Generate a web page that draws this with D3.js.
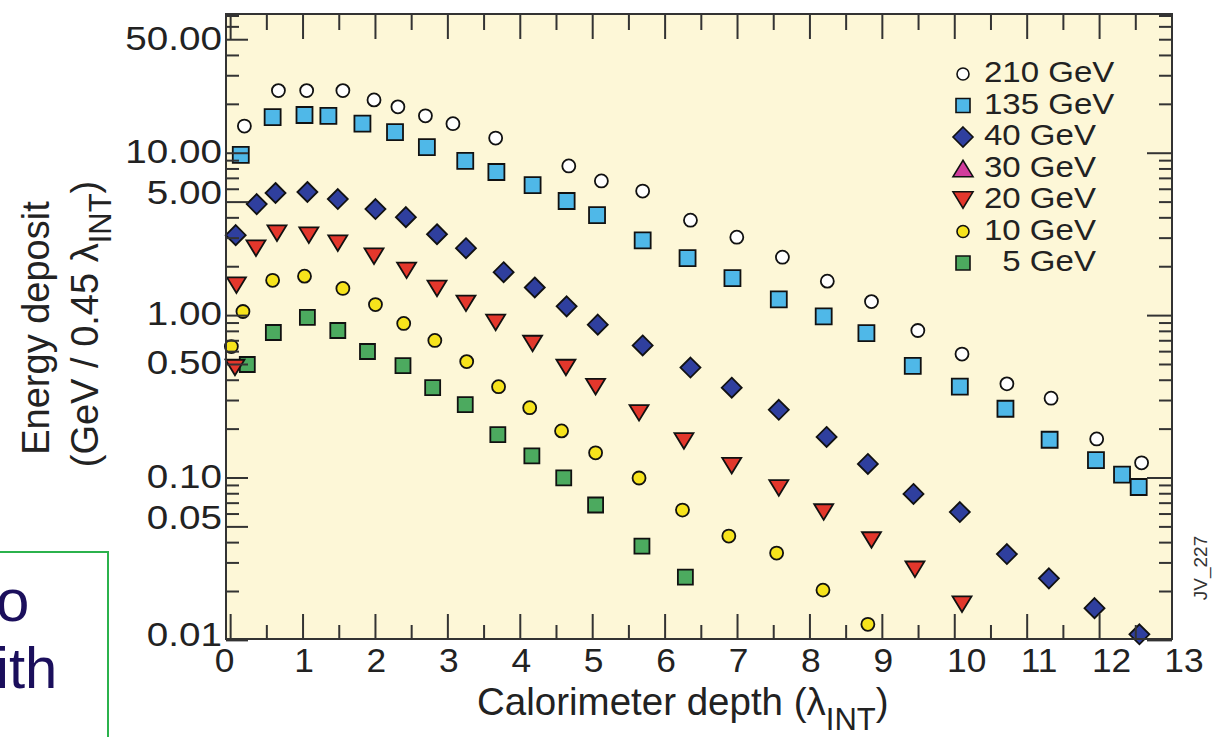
<!DOCTYPE html>
<html>
<head>
<meta charset="utf-8">
<script src="https://cdn.jsdelivr.net/npm/d3@7/dist/d3.min.js"></script>
<style>
  body { margin: 0; background: #fff; }
  svg { display: block; font-family: "Liberation Sans", Arial, sans-serif; }
</style>
</head>
<body>
<svg id="chart" width="1217" height="737"></svg>
<script>
// 各能量的数据点 (深度 λ_INT, 能量沉积 GeV / 0.45 λ_INT)
const depth210 = [0.19,0.66,1.05,1.55,1.98,2.31,2.69,3.07,3.66,4.67,5.12,5.69,6.35,6.99,7.62,8.24,8.85,9.49,10.1,10.72,11.33,11.96,12.58];
const dep210   = [14.7,24.3,24.3,24.3,21.3,19.3,17.0,15.2,12.4,8.35,6.75,5.85,3.87,3.04,2.29,1.63,1.22,0.81,0.58,0.38,0.31,0.174,0.124];

const depth135 = [0.14,0.58,1.02,1.35,1.82,2.27,2.71,3.24,3.67,4.17,4.64,5.06,5.69,6.31,6.93,7.57,8.19,8.78,9.42,10.07,10.7,11.31,11.95,12.31,12.54];
const dep135   = [9.76,16.7,17.2,17.0,15.2,13.5,10.9,8.96,7.66,6.37,5.08,4.16,2.91,2.26,1.70,1.26,0.99,0.78,0.49,0.365,0.267,0.172,0.129,0.105,0.088];

const depth40 = [0.07,0.36,0.62,1.06,1.48,2.0,2.42,2.85,3.25,3.77,4.2,4.64,5.07,5.69,6.35,6.92,7.57,8.23,8.8,9.43,10.07,10.72,11.3,11.93,12.55];
const dep40   = [3.13,4.86,5.69,5.77,5.22,4.53,4.04,3.17,2.60,1.85,1.49,1.14,0.88,0.655,0.479,0.360,0.263,0.179,0.122,0.0798,0.0617,0.034,0.0241,0.0158,0.0109];

const depth30 = [];
const dep30   = [];

const depth20 = [0.06,0.08,0.35,0.64,1.08,1.48,1.98,2.43,2.85,3.25,3.66,4.17,4.63,5.04,5.64,6.26,6.92,7.57,8.19,8.85,9.45,10.1];
const dep20   = [0.479,1.54,2.60,3.22,3.13,2.79,2.32,1.90,1.47,1.19,0.908,0.673,0.479,0.365,0.252,0.169,0.119,0.0869,0.0617,0.0415,0.0274,0.0167];

const depth10 = [0.01,0.17,0.58,1.02,1.55,2.0,2.39,2.82,3.26,3.7,4.13,4.57,5.04,5.64,6.24,6.88,7.54,8.18,8.8];
const dep10   = [0.645,1.06,1.65,1.75,1.47,1.17,0.895,0.703,0.521,0.365,0.271,0.195,0.143,0.100,0.0635,0.0439,0.0345,0.0204,0.01256];

const depth5 = [0.23,0.59,1.06,1.48,1.89,2.38,2.79,3.24,3.69,4.16,4.6,5.04,5.68,6.28];
const dep5   = [0.50,0.787,0.975,0.81,0.601,0.492,0.360,0.283,0.185,0.137,0.1001,0.0682,0.0381,0.0245];

// 图例与刻度
const seriesNames = ["210 GeV", "135 GeV", "40 GeV", "30 GeV", "20 GeV", "10 GeV", "\u00a0\u00a05 GeV"];
const xTickLabels = [0,1,2,3,4,5,6,7,8,9,10,11,12,13];
const yTickLabels = [50, 10, 5, 1, 0.5, 0.1, 0.05, 0.01];

// 样式
const styles = [
    {shape: "circle",  fill: "#ffffff", size: 13, lsize: 12},
    {shape: "square",  fill: "#4fb8e8", size: 16, lsize: 14},
    {shape: "diamond", fill: "#2f3f9e", size: 20, lsize: 20},
    {shape: "triUp",   fill: "#d13c9c", size: 19, lsize: 20},
    {shape: "triDown", fill: "#e3372c", size: 19, lsize: 20},
    {shape: "circle",  fill: "#f6e31c", size: 13, lsize: 12},
    {shape: "square",  fill: "#4caa5f", size: 15, lsize: 14}
];

const series = [
    [depth210, dep210], [depth135, dep135], [depth40, dep40], [depth30, dep30],
    [depth20, dep20], [depth10, dep10], [depth5, dep5]
].map((s, i) => ({
    name: seriesNames[i],
    style: styles[i],
    points: s[0].map((d, j) => ({x: d, y: s[1][j]}))
}));

const svg = d3.select("#chart");
const pLeft = 226, pRight = 1172, pTop = 14, pBottom = 639;

var x = d3.scaleLinear().domain([-0.064, 13]).range([pLeft, pRight]);
var y = d3.scaleLog().domain([0.0102, 72]).range([pBottom, pTop]);

// 文字横向拉宽（原图字体偏宽）
function stretch(sel, k) {
    sel.each(function() {
        var w = this.getComputedTextLength();
        d3.select(this).attr("textLength", w * k).attr("lengthAdjust", "spacingAndGlyphs");
    });
}

// 左下角被截掉的幻灯片文本框
svg.append("rect")
    .attr("x", -10).attr("y", 552).attr("width", 118).attr("height", 200)
    .attr("fill", "none").attr("stroke", "#2bb24c").attr("stroke-width", 2);
svg.append("text").attr("x", -4).attr("y", 621)
    .attr("font-size", 60).attr("fill", "#1b0f5c").text("o");
svg.append("text").attr("x", -4).attr("y", 688)
    .attr("font-size", 58).attr("fill", "#1b0f5c").text("ith");

// 绘图区背景
svg.append("rect")
    .attr("x", pLeft).attr("y", pTop)
    .attr("width", pRight - pLeft).attr("height", pBottom - pTop)
    .attr("fill", "#fdf7d7");

// 符号路径
function shapePath(shape, s) {
    var p = d3.path(), h = s / 2;
    if (shape === "square") {
        p.rect(-h, -h, s, s);
    } else if (shape === "diamond") {
        p.moveTo(0, -h); p.lineTo(h, 0); p.lineTo(0, h); p.lineTo(-h, 0); p.closePath();
    } else if (shape === "triDown") {
        var th = s * 0.82 / 2;
        p.moveTo(-h, -th); p.lineTo(h, -th); p.lineTo(0, th); p.closePath();
    } else if (shape === "triUp") {
        var th2 = s * 0.82 / 2;
        p.moveTo(-h, th2); p.lineTo(h, th2); p.lineTo(0, -th2); p.closePath();
    } else {
        p.arc(0, 0, h, 0, 2 * Math.PI);
    }
    return p.toString();
}

// 数据点（从低能量往上画）
var plot = svg.append("g");
series.slice().reverse().forEach((s) => {
    plot.append("g").selectAll("path")
        .data(s.points)
        .enter()
        .append("path")
        .attr("transform", (d) => `translate(${x(d.x)},${y(d.y)})`)
        .attr("d", shapePath(s.style.shape, s.style.size))
        .attr("fill", s.style.fill)
        .attr("stroke", "#111")
        .attr("stroke-width", 1.8);
});

// 刻度线
var ticks = svg.append("g").attr("stroke", "#333").attr("stroke-width", 2);
var xMajor = d3.range(0, 14), xMinor = d3.range(0.5, 13, 1);
xMajor.forEach((t) => {
    ticks.append("line").attr("x1", x(t)).attr("x2", x(t)).attr("y1", pBottom).attr("y2", pBottom - 25);
    ticks.append("line").attr("x1", x(t)).attr("x2", x(t)).attr("y1", pTop).attr("y2", pTop + 25);
});
xMinor.forEach((t) => {
    ticks.append("line").attr("x1", x(t)).attr("x2", x(t)).attr("y1", pBottom).attr("y2", pBottom - 14);
    ticks.append("line").attr("x1", x(t)).attr("x2", x(t)).attr("y1", pTop).attr("y2", pTop + 16);
});

var yt = [];
[-2, -1, 0, 1].forEach((k) => {
    d3.range(1, 10).forEach((m) => {
        var v = m * Math.pow(10, k);
        if (v <= 72) yt.push({v: v, major: m === 1, labelled: m === 1 || m === 5});
    });
});
yt.forEach((t) => {
    var yy = y(t.v);
    ticks.append("line").attr("x1", pLeft).attr("x2", pLeft + (t.labelled ? 22 : 13)).attr("y1", yy).attr("y2", yy);
    ticks.append("line").attr("x1", pRight).attr("x2", pRight - (t.major ? 25 : 13)).attr("y1", yy).attr("y2", yy);
});

// 边框
svg.append("rect")
    .attr("x", pLeft).attr("y", pTop)
    .attr("width", pRight - pLeft).attr("height", pBottom - pTop)
    .attr("fill", "none").attr("stroke", "#333").attr("stroke-width", 2);

// 刻度文字
var xLab = svg.append("g").selectAll("text")
    .data(xTickLabels)
    .enter().append("text")
    .attr("x", (d) => x(d) + (d >= 10 ? 12 : (d === 0 ? -6 : 1)))
    .attr("y", 672)
    .attr("text-anchor", "middle")
    .attr("font-size", 33)
    .attr("fill", "#222")
    .text((d) => d);
stretch(xLab, 1.07);

var fmt = d3.format(".2f");
var yLab = svg.append("g").selectAll("text")
    .data(yTickLabels)
    .enter().append("text")
    .attr("x", 222)
    .attr("y", (d) => y(d) + ((d === 5 || d === 0.05) ? -10 : (d === 0.01 ? -6 : -2)))
    .attr("dy", "0.36em")
    .attr("text-anchor", "end")
    .attr("font-size", 33)
    .attr("fill", "#222")
    .text((d) => fmt(d));
stretch(yLab, 1.17);

// 坐标轴标题
var xt = svg.append("text").attr("x", 477).attr("y", 715)
    .attr("font-size", 38.5).attr("fill", "#222");
xt.append("tspan").text("Calorimeter depth (\u03bb");
xt.append("tspan").attr("dy", 15).attr("font-size", 31).text("INT");
xt.append("tspan").attr("dy", -15).text(")");

var yg1 = svg.append("g").attr("transform", "translate(49,328) rotate(-90)");
yg1.append("text").attr("text-anchor", "middle").attr("font-size", 38).attr("fill", "#222")
    .text("Energy deposit");
var yg2 = svg.append("g").attr("transform", "translate(98,324) rotate(-90)");
var yl2 = yg2.append("text").attr("text-anchor", "middle").attr("font-size", 38).attr("fill", "#222");
yl2.append("tspan").text("(GeV / 0.45 \u03bb");
yl2.append("tspan").attr("dy", 13).attr("font-size", 31).text("INT");
yl2.append("tspan").attr("dy", -13).text(")");

// 图例
var legend = svg.append("g");
var rows = legend.selectAll("g")
    .data(series)
    .enter().append("g")
    .attr("transform", (d, i) => `translate(963,${74 + i * 31.5})`);
rows.append("path")
    .attr("d", (d) => shapePath(d.style.shape, d.style.lsize))
    .attr("fill", (d) => d.style.fill)
    .attr("stroke", "#111")
    .attr("stroke-width", 1.6);
var legText = rows.append("text")
    .attr("x", 21)
    .attr("y", 8)
    .attr("font-size", 30)
    .attr("fill", "#222")
    .text((d) => d.name);
stretch(legText, 1.1);

// 图号
svg.append("text")
    .attr("transform", "translate(1207,568) rotate(-90)")
    .attr("text-anchor", "middle")
    .attr("font-size", 19)
    .attr("fill", "#333")
    .text("JV_227");
</script>
</body>
</html>
